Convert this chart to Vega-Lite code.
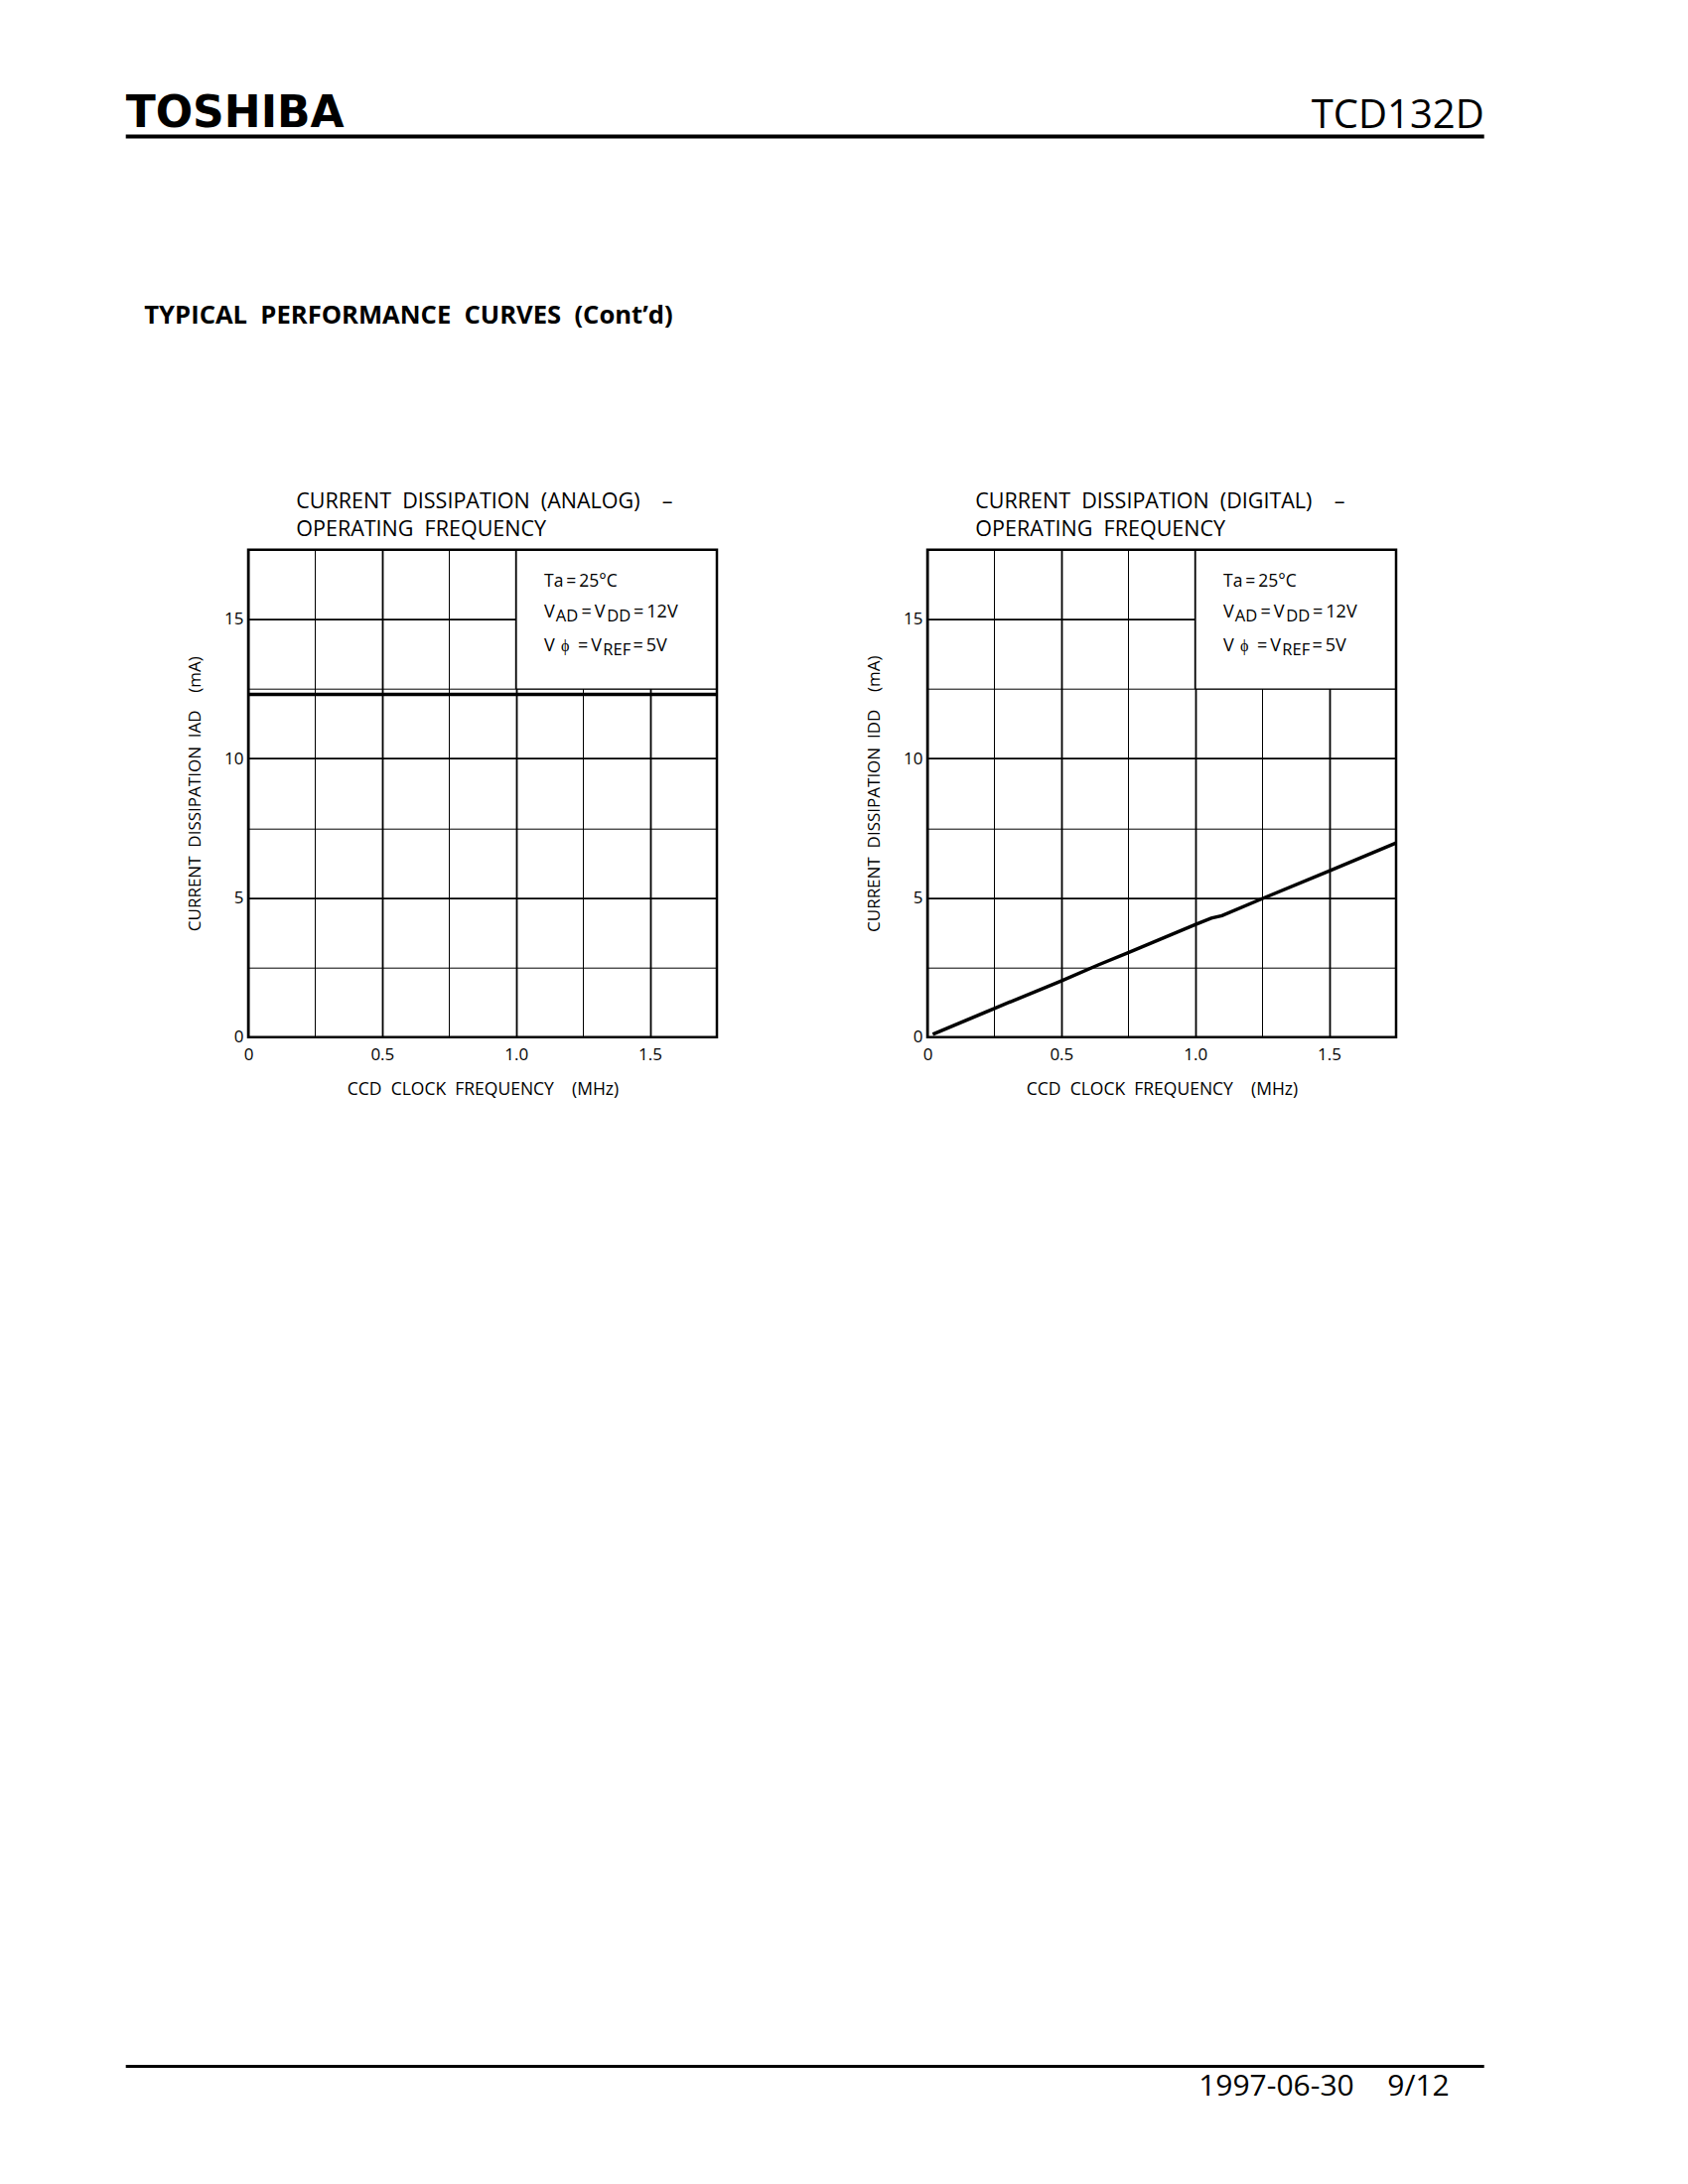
{
"$schema": "https://vega.github.io/schema/vega-lite/v6.json",
"padding": 0,
"background": "white",
"config": {
  "view": {"stroke": null},
  "font": "Open Sans",
  "axis": {"labelFont": "Open Sans", "titleFont": "Open Sans", "labelColor": "black", "titleColor": "black", "titleFontWeight": "normal"},
  "title": {"font": "Open Sans", "color": "black", "fontWeight": "normal"},
  "text": {"font": "Open Sans", "color": "black"}
},
"bounds": "flush",
"spacing": 53.7,
"vconcat": [
 {
  "width": 472, "height": 500,
  "layer": [
   {"data": {"values": [{}]}, "mark": {"type": "rect", "fill": "white"},
    "encoding": {
     "x": {"datum": 0, "type": "quantitative", "scale": {"domain": [0, 8.5], "range": [-249.3, 1450.7], "nice": false, "zero": false}, "axis": null},
     "x2": {"datum": 8.5},
     "y": {"datum": 0, "type": "quantitative", "scale": {"domain": [0, 11], "range": [0, 2200], "nice": false, "zero": false}, "axis": null},
     "y2": {"datum": 11}}},
   {"data": {"values": [{"t": "TOSHIBA"}]}, "mark": {"type": "text", "font": "DejaVu Sans", "fontWeight": "bold", "fontSize": 44, "align": "left", "baseline": "alphabetic"},
    "encoding": {"x": {"datum": 0.63}, "y": {"datum": 0.64}, "text": {"field": "t"}}},
   {"data": {"values": [{"t": "TCD132D"}]}, "mark": {"type": "text", "fontSize": 40, "align": "right", "baseline": "alphabetic"},
    "encoding": {"x": {"datum": 7.47}, "y": {"datum": 0.645}, "text": {"field": "t"}}},
   {"data": {"values": [{}]}, "mark": {"type": "rule", "color": "black", "strokeWidth": 4},
    "encoding": {"x": {"datum": 0.63}, "x2": {"datum": 7.47}, "y": {"datum": 0.6875}}},
   {"data": {"values": [{"t": "TYPICAL\u00a0 PERFORMANCE\u00a0 CURVES\u00a0 (Cont\u2019d)"}]}, "mark": {"type": "text", "fontSize": 25.6, "fontWeight": "bold", "align": "left", "baseline": "alphabetic"},
    "encoding": {"x": {"datum": 0.723}, "y": {"datum": 1.63}, "text": {"field": "t"}}},
   {"data": {"values": [{}]}, "mark": {"type": "rule", "color": "black", "strokeWidth": 3},
    "encoding": {"x": {"datum": 0.63}, "x2": {"datum": 7.47}, "y": {"datum": 10.4075}}},
   {"data": {"values": [{"t": "1997-06-30"}]}, "mark": {"type": "text", "fontSize": 30, "align": "right", "baseline": "alphabetic"},
    "encoding": {"x": {"datum": 6.815}, "y": {"datum": 10.5535}, "text": {"field": "t"}}},
   {"data": {"values": [{"t": "9/12"}]}, "mark": {"type": "text", "fontSize": 30, "align": "right", "baseline": "alphabetic"},
    "encoding": {"x": {"datum": 7.295}, "y": {"datum": 10.5535}, "text": {"field": "t"}}}
  ]
 },
 {
  "bounds": "flush",
  "spacing": 212,
  "hconcat": [
   {
    "width": 472, "height": 491,
    "title": {"text": ["CURRENT\u00a0 DISSIPATION\u00a0 (ANALOG)\u00a0\u00a0\u00a0 \u2013", "OPERATING\u00a0 FREQUENCY"], "anchor": "start", "frame": "group", "dx": 48.3, "fontSize": 21.5, "lineHeight": 28, "offset": -22, "baseline": "bottom"},
    "data": {"values": [{"f": 0, "i": 12.3}, {"f": 1.75, "i": 12.3}]},
    "layer": [
     {"mark": {"type": "line", "color": "black", "strokeWidth": 3.5},
      "encoding": {
       "x": {"field": "f", "type": "quantitative", "title": "CCD\u00a0 CLOCK\u00a0 FREQUENCY\u00a0 \u00a0 (MHz)\u00a0\u00a0\u00a0",
        "scale": {"domain": [0, 1.75], "nice": false, "zero": false},
        "axis": {"values": [0, 0.25, 0.5, 0.75, 1, 1.25, 1.5, 1.75], "grid": true, "gridColor": "black", "gridOpacity": 1,
         "gridWidth": {"condition": {"test": "datum.value % 0.5 === 0", "value": 1.8}, "value": 1},
         "domain": false, "ticks": false, "tickSize": 0,
         "labelExpr": "datum.value % 0.5 === 0 && datum.value < 1.7 ? (datum.value === 0 ? '0' : format(datum.value, '.1f')) : ''",
         "labelFontSize": 17, "labelPadding": 10, "labelFlush": false, "labelOverlap": false,
         "titleFontSize": 17.5, "titlePadding": 18}},
       "y": {"field": "i", "type": "quantitative", "title": "CURRENT\u00a0 DISSIPATION\u00a0 IAD\u00a0 \u00a0 (mA)",
        "scale": {"domain": [0, 17.5], "nice": false, "zero": false},
        "axis": {"values": [0, 2.5, 5, 7.5, 10, 12.5, 15, 17.5], "grid": true, "gridColor": "black", "gridOpacity": 1,
         "gridWidth": {"condition": {"test": "datum.value % 5 === 0", "value": 1.8}, "value": 1},
         "domain": false, "ticks": false, "tickSize": 0,
         "labelExpr": "datum.value % 5 === 0 ? format(datum.value, 'd') : ''",
         "labelFontSize": 17, "labelPadding": 5, "labelOverlap": false,
         "titleFontSize": 17, "titlePadding": 20}}}},
     {"data": {"values": [{}]}, "mark": {"type": "rect", "fill": "white"},
      "encoding": {"x": {"datum": 1.0}, "x2": {"datum": 1.75}, "y": {"datum": 12.5}, "y2": {"datum": 17.5}}},
     {"data": {"values": [{}]}, "mark": {"type": "rule", "color": "black", "strokeWidth": 1.8},
      "encoding": {"x": {"datum": 1.0}, "y": {"datum": 12.5}, "y2": {"datum": 17.5}}},
     {"data": {"values": [{}]}, "mark": {"type": "rule", "color": "black", "strokeWidth": 1.1},
      "encoding": {"x": {"datum": 1.0}, "x2": {"datum": 1.75}, "y": {"datum": 12.5}}},
     {"data": {"values": [{"t": "Ta\u2009=\u200925\u00b0C"}]}, "mark": {"type": "text", "align": "left", "baseline": "alphabetic", "fontSize": 17.5, "dx": 0},
      "encoding": {"x": {"datum": 1.105}, "y": {"datum": 16.17}, "text": {"field": "t"}}},
     {"data": {"values": [{"t": "V"}]}, "mark": {"type": "text", "align": "left", "baseline": "alphabetic", "fontSize": 18, "dx": 0},
      "encoding": {"x": {"datum": 1.105}, "y": {"datum": 15.08}, "text": {"field": "t"}}},
     {"data": {"values": [{"t": "AD"}]}, "mark": {"type": "text", "align": "left", "baseline": "alphabetic", "fontSize": 16.5, "dx": 11.8, "dy": 4},
      "encoding": {"x": {"datum": 1.105}, "y": {"datum": 15.08}, "text": {"field": "t"}}},
     {"data": {"values": [{"t": "=\u2009V"}]}, "mark": {"type": "text", "align": "left", "baseline": "alphabetic", "fontSize": 18, "dx": 37.5},
      "encoding": {"x": {"datum": 1.105}, "y": {"datum": 15.08}, "text": {"field": "t"}}},
     {"data": {"values": [{"t": "DD"}]}, "mark": {"type": "text", "align": "left", "baseline": "alphabetic", "fontSize": 16.5, "dx": 63.3, "dy": 4},
      "encoding": {"x": {"datum": 1.105}, "y": {"datum": 15.08}, "text": {"field": "t"}}},
     {"data": {"values": [{"t": "=\u200912V"}]}, "mark": {"type": "text", "align": "left", "baseline": "alphabetic", "fontSize": 18, "dx": 90},
      "encoding": {"x": {"datum": 1.105}, "y": {"datum": 15.08}, "text": {"field": "t"}}},
     {"data": {"values": [{"t": "V"}]}, "mark": {"type": "text", "align": "left", "baseline": "alphabetic", "fontSize": 18, "dx": 0},
      "encoding": {"x": {"datum": 1.105}, "y": {"datum": 13.84}, "text": {"field": "t"}}},
     {"data": {"values": [{"t": "\u03d5"}]}, "mark": {"type": "text", "align": "left", "baseline": "alphabetic", "fontSize": 16, "dx": 17},
      "encoding": {"x": {"datum": 1.105}, "y": {"datum": 13.84}, "text": {"field": "t"}}},
     {"data": {"values": [{"t": "=\u2009V"}]}, "mark": {"type": "text", "align": "left", "baseline": "alphabetic", "fontSize": 18, "dx": 34},
      "encoding": {"x": {"datum": 1.105}, "y": {"datum": 13.84}, "text": {"field": "t"}}},
     {"data": {"values": [{"t": "REF"}]}, "mark": {"type": "text", "align": "left", "baseline": "alphabetic", "fontSize": 16.5, "dx": 59.3, "dy": 4},
      "encoding": {"x": {"datum": 1.105}, "y": {"datum": 13.84}, "text": {"field": "t"}}},
     {"data": {"values": [{"t": "=\u20095V"}]}, "mark": {"type": "text", "align": "left", "baseline": "alphabetic", "fontSize": 18, "dx": 89.5},
      "encoding": {"x": {"datum": 1.105}, "y": {"datum": 13.84}, "text": {"field": "t"}}},
     {"data": {"values": [{}]}, "mark": {"type": "rect", "filled": false, "stroke": "black", "strokeWidth": 2.5},
      "encoding": {"x": {"datum": 0}, "x2": {"datum": 1.75}, "y": {"datum": 0}, "y2": {"datum": 17.5}}}
    ]
   },
   {
    "width": 472, "height": 491,
    "title": {"text": ["CURRENT\u00a0 DISSIPATION\u00a0 (DIGITAL)\u00a0\u00a0\u00a0 \u2013", "OPERATING\u00a0 FREQUENCY"], "anchor": "start", "frame": "group", "dx": 48.3, "fontSize": 21.5, "lineHeight": 28, "offset": -22, "baseline": "bottom"},
    "data": {"values": [
     {"f": 0.02, "i": 0.1}, {"f": 0.25, "i": 1.03}, {"f": 0.5, "i": 2.02}, {"f": 0.64, "i": 2.6},
     {"f": 0.75, "i": 3.03}, {"f": 1.0, "i": 4.04}, {"f": 1.06, "i": 4.27}, {"f": 1.1, "i": 4.36},
     {"f": 1.25, "i": 4.97}, {"f": 1.5, "i": 5.96}, {"f": 1.75, "i": 6.97}]},
    "layer": [
     {"mark": {"type": "line", "color": "black", "strokeWidth": 3.5},
      "encoding": {
       "x": {"field": "f", "type": "quantitative", "title": "CCD\u00a0 CLOCK\u00a0 FREQUENCY\u00a0 \u00a0 (MHz)\u00a0\u00a0\u00a0",
        "scale": {"domain": [0, 1.75], "nice": false, "zero": false},
        "axis": {"values": [0, 0.25, 0.5, 0.75, 1, 1.25, 1.5, 1.75], "grid": true, "gridColor": "black", "gridOpacity": 1,
         "gridWidth": {"condition": {"test": "datum.value % 0.5 === 0", "value": 1.8}, "value": 1},
         "domain": false, "ticks": false, "tickSize": 0,
         "labelExpr": "datum.value % 0.5 === 0 && datum.value < 1.7 ? (datum.value === 0 ? '0' : format(datum.value, '.1f')) : ''",
         "labelFontSize": 17, "labelPadding": 10, "labelFlush": false, "labelOverlap": false,
         "titleFontSize": 17.5, "titlePadding": 18}},
       "y": {"field": "i", "type": "quantitative", "title": "CURRENT\u00a0 DISSIPATION\u00a0 IDD\u00a0 \u00a0 (mA)",
        "scale": {"domain": [0, 17.5], "nice": false, "zero": false},
        "axis": {"values": [0, 2.5, 5, 7.5, 10, 12.5, 15, 17.5], "grid": true, "gridColor": "black", "gridOpacity": 1,
         "gridWidth": {"condition": {"test": "datum.value % 5 === 0", "value": 1.8}, "value": 1},
         "domain": false, "ticks": false, "tickSize": 0,
         "labelExpr": "datum.value % 5 === 0 ? format(datum.value, 'd') : ''",
         "labelFontSize": 17, "labelPadding": 5, "labelOverlap": false,
         "titleFontSize": 17, "titlePadding": 20}}}},
     {"data": {"values": [{}]}, "mark": {"type": "rect", "fill": "white"},
      "encoding": {"x": {"datum": 1.0}, "x2": {"datum": 1.75}, "y": {"datum": 12.5}, "y2": {"datum": 17.5}}},
     {"data": {"values": [{}]}, "mark": {"type": "rule", "color": "black", "strokeWidth": 1.8},
      "encoding": {"x": {"datum": 1.0}, "y": {"datum": 12.5}, "y2": {"datum": 17.5}}},
     {"data": {"values": [{}]}, "mark": {"type": "rule", "color": "black", "strokeWidth": 1.1},
      "encoding": {"x": {"datum": 1.0}, "x2": {"datum": 1.75}, "y": {"datum": 12.5}}},
     {"data": {"values": [{"t": "Ta\u2009=\u200925\u00b0C"}]}, "mark": {"type": "text", "align": "left", "baseline": "alphabetic", "fontSize": 17.5, "dx": 0},
      "encoding": {"x": {"datum": 1.105}, "y": {"datum": 16.17}, "text": {"field": "t"}}},
     {"data": {"values": [{"t": "V"}]}, "mark": {"type": "text", "align": "left", "baseline": "alphabetic", "fontSize": 18, "dx": 0},
      "encoding": {"x": {"datum": 1.105}, "y": {"datum": 15.08}, "text": {"field": "t"}}},
     {"data": {"values": [{"t": "AD"}]}, "mark": {"type": "text", "align": "left", "baseline": "alphabetic", "fontSize": 16.5, "dx": 11.8, "dy": 4},
      "encoding": {"x": {"datum": 1.105}, "y": {"datum": 15.08}, "text": {"field": "t"}}},
     {"data": {"values": [{"t": "=\u2009V"}]}, "mark": {"type": "text", "align": "left", "baseline": "alphabetic", "fontSize": 18, "dx": 37.5},
      "encoding": {"x": {"datum": 1.105}, "y": {"datum": 15.08}, "text": {"field": "t"}}},
     {"data": {"values": [{"t": "DD"}]}, "mark": {"type": "text", "align": "left", "baseline": "alphabetic", "fontSize": 16.5, "dx": 63.3, "dy": 4},
      "encoding": {"x": {"datum": 1.105}, "y": {"datum": 15.08}, "text": {"field": "t"}}},
     {"data": {"values": [{"t": "=\u200912V"}]}, "mark": {"type": "text", "align": "left", "baseline": "alphabetic", "fontSize": 18, "dx": 90},
      "encoding": {"x": {"datum": 1.105}, "y": {"datum": 15.08}, "text": {"field": "t"}}},
     {"data": {"values": [{"t": "V"}]}, "mark": {"type": "text", "align": "left", "baseline": "alphabetic", "fontSize": 18, "dx": 0},
      "encoding": {"x": {"datum": 1.105}, "y": {"datum": 13.84}, "text": {"field": "t"}}},
     {"data": {"values": [{"t": "\u03d5"}]}, "mark": {"type": "text", "align": "left", "baseline": "alphabetic", "fontSize": 16, "dx": 17},
      "encoding": {"x": {"datum": 1.105}, "y": {"datum": 13.84}, "text": {"field": "t"}}},
     {"data": {"values": [{"t": "=\u2009V"}]}, "mark": {"type": "text", "align": "left", "baseline": "alphabetic", "fontSize": 18, "dx": 34},
      "encoding": {"x": {"datum": 1.105}, "y": {"datum": 13.84}, "text": {"field": "t"}}},
     {"data": {"values": [{"t": "REF"}]}, "mark": {"type": "text", "align": "left", "baseline": "alphabetic", "fontSize": 16.5, "dx": 59.3, "dy": 4},
      "encoding": {"x": {"datum": 1.105}, "y": {"datum": 13.84}, "text": {"field": "t"}}},
     {"data": {"values": [{"t": "=\u20095V"}]}, "mark": {"type": "text", "align": "left", "baseline": "alphabetic", "fontSize": 18, "dx": 89.5},
      "encoding": {"x": {"datum": 1.105}, "y": {"datum": 13.84}, "text": {"field": "t"}}},
     {"data": {"values": [{}]}, "mark": {"type": "rect", "filled": false, "stroke": "black", "strokeWidth": 2.5},
      "encoding": {"x": {"datum": 0}, "x2": {"datum": 1.75}, "y": {"datum": 0}, "y2": {"datum": 17.5}}}
    ]
   }
  ]
 }
]
}
